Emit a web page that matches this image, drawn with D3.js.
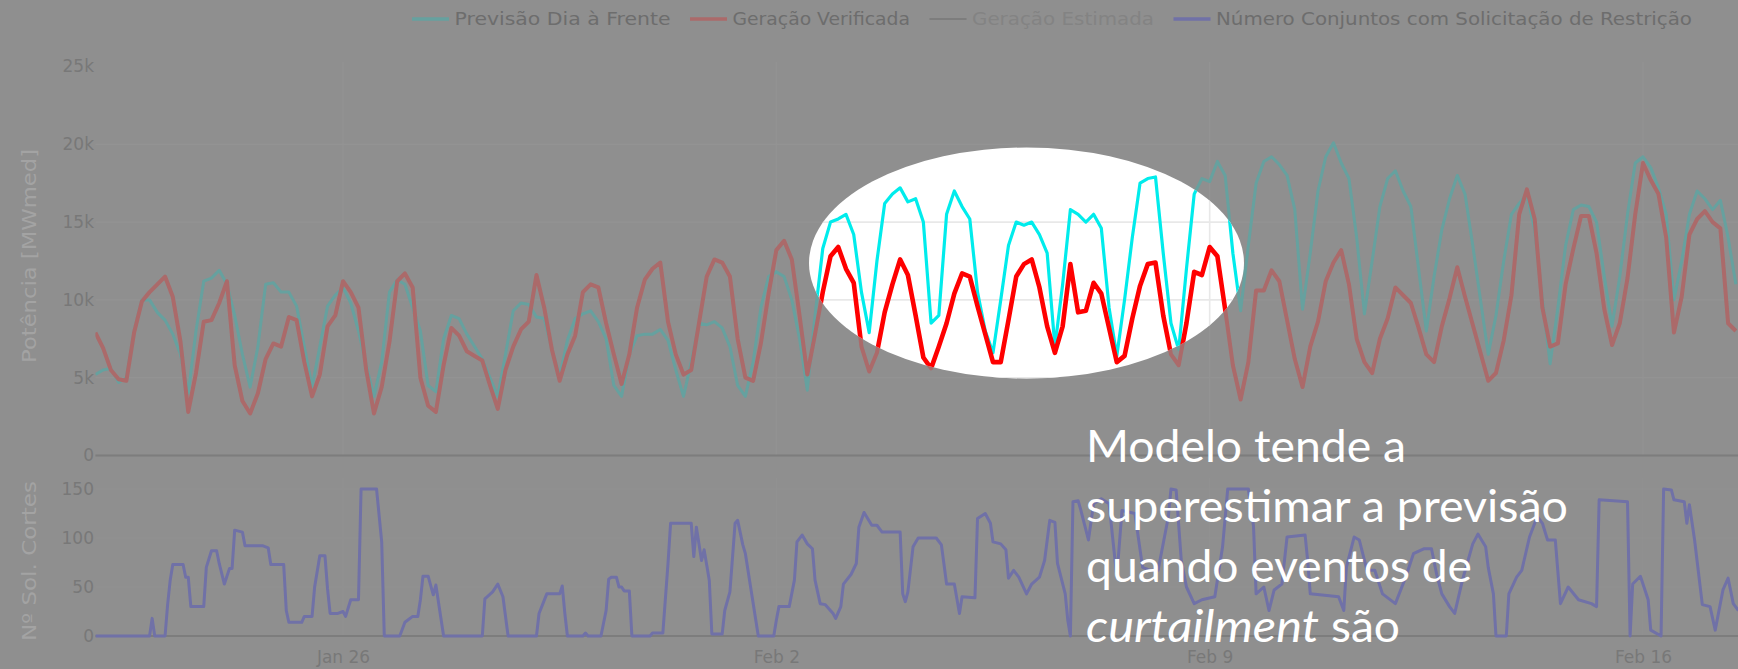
<!DOCTYPE html>
<html><head><meta charset="utf-8">
<script src="https://cdn.jsdelivr.net/npm/d3@7"></script>
<style>html,body{margin:0;padding:0;background:#8f8f8f;overflow:hidden}svg{display:block}</style>
</head><body>
<svg id="chart" width="1738" height="669"></svg>
<script>
// ---------------- DATA ----------------
const startTime = "2025-01-22T00:00:00Z";
const endTime   = "2025-02-17T12:50:00Z";
const stepHours = 3;   // forecast / verified sampled every 3 h from startTime (values in thousands of MWmed)

const forecastK = [
  5.2, 5.5, 5.6, 4.7, 5.0, 8.0, 10.0, 10.0,
  9.2, 8.7, 7.8, 6.5, 4.0, 8.0, 11.2, 11.4,
  11.9, 11.0, 9.0, 6.5, 4.4, 7.0, 11.0, 11.1,
  10.5, 10.5, 9.6, 7.0, 4.4, 7.0, 9.6, 10.3,
  10.8, 9.8, 8.0, 5.8, 3.8, 6.0, 10.5, 11.3,
  11.0, 9.5, 8.0, 4.5, 4.1, 7.5, 9.0, 8.8,
  7.8, 7.0, 6.2, 5.0, 3.8, 6.5, 9.3, 9.8,
  9.7, 8.9, 8.8, 6.8, 5.1, 7.4, 8.8, 9.1,
  9.3, 8.6, 7.5, 4.5, 3.8, 6.5, 7.7, 7.8,
  7.8, 8.1, 7.4, 5.5, 3.8, 6.0, 8.5, 8.4,
  8.6, 8.2, 7.0, 4.5, 3.8, 6.0, 9.5, 11.5,
  11.8, 11.5, 10.0, 7.5, 4.2, 9.0, 13.3, 15.0,
  15.2, 15.5, 14.2, 10.5, 7.9, 12.5, 16.2, 16.8,
  17.2, 16.3, 16.5, 15.0, 8.5, 9.0, 15.5, 17.0,
  16.0, 15.2, 10.5, 8.0, 6.6, 10.0, 13.5, 15.0,
  14.8, 15.0, 14.2, 13.0, 7.0, 11.0, 15.8, 15.5,
  15.0, 15.5, 14.6, 9.5, 6.4, 10.0, 14.0, 17.5,
  17.8, 17.9, 13.0, 8.5, 6.8, 12.0, 16.8, 17.8,
  17.6, 18.9, 18.0, 13.0, 9.3, 13.5, 17.5, 18.9,
  19.2, 18.7, 18.0, 15.8, 9.4, 13.0, 17.0, 19.2,
  20.1, 18.8, 17.8, 14.0, 9.1, 12.5, 16.0, 17.8,
  18.3, 17.0, 16.0, 12.0, 8.0, 11.5, 14.5, 16.5,
  18.0, 16.8, 13.5, 10.0, 6.5, 9.0, 12.5, 15.5,
  16.2, 16.8, 14.5, 10.0, 5.9, 9.5, 13.5, 15.8,
  16.1, 16.0, 15.0, 11.5, 8.3, 11.5, 15.5, 18.8,
  19.2, 18.5, 17.2, 15.5, 10.0, 12.5, 15.5, 17.0,
  16.5, 15.8, 16.4, 14.0, 11.0
];

const verifiedK = [
  7.9, 6.9, 5.5, 4.9, 4.8, 7.9, 9.9, 10.5,
  11.0, 11.5, 10.2, 7.3, 2.8, 5.3, 8.6, 8.7,
  9.8, 11.2, 5.8, 3.5, 2.7, 4.0, 6.2, 7.2,
  7.0, 8.9, 8.7, 6.0, 3.8, 5.2, 8.3, 9.0,
  11.2, 10.5, 9.5, 5.5, 2.7, 4.4, 7.3, 11.2,
  11.7, 10.8, 5.0, 3.2, 2.8, 5.8, 8.2, 7.7,
  6.7, 6.4, 6.1, 4.5, 3.0, 5.5, 7.0, 8.1,
  8.6, 11.6, 9.5, 6.8, 4.8, 6.5, 7.7, 10.5,
  11.0, 10.8, 8.5, 6.5, 4.6, 6.5, 9.5, 11.3,
  12.0, 12.4, 8.6, 6.5, 5.2, 5.5, 8.5, 11.5,
  12.6, 12.4, 11.5, 7.5, 5.0, 4.8, 7.2, 10.4,
  13.2, 13.8, 12.6, 9.0, 5.2, 7.8, 10.5, 12.8,
  13.4, 12.0, 11.1, 7.0, 5.4, 6.6, 9.2, 11.0,
  12.6, 11.6, 9.0, 6.3, 5.6, 7.0, 8.5, 10.4,
  11.7, 11.5, 9.6, 7.8, 6.0, 6.0, 8.7, 11.5,
  12.3, 12.6, 10.8, 8.3, 6.6, 8.3, 12.3, 9.2,
  9.3, 11.1, 10.4, 8.2, 6.0, 6.4, 8.8, 10.9,
  12.3, 12.4, 9.0, 6.5, 5.8, 8.5, 11.8, 11.6,
  13.4, 12.8, 9.4, 5.8, 3.6, 6.0, 10.6, 10.6,
  11.9, 11.2, 8.7, 6.2, 4.4, 7.0, 8.6, 11.2,
  12.4, 13.2, 11.0, 7.5, 6.0, 5.3, 7.5, 8.8,
  10.8, 10.3, 9.8, 8.2, 6.5, 6.0, 8.3, 10.1,
  12.1, 10.2, 8.4, 6.6, 4.8, 5.3, 7.4, 10.3,
  15.5, 17.1, 15.2, 9.5, 7.0, 7.2, 11.0, 13.3,
  15.4, 15.4, 13.0, 9.4, 7.1, 8.5, 11.4, 15.5,
  18.8, 17.7, 16.8, 14.0, 7.9, 10.2, 14.2, 15.2,
  15.7, 15.0, 14.6, 8.5, 8.0
];

// [hours since startTime, number of plants with curtailment request]
const restrictionCount = [
  [0,0],[21,0],[22,18],[23,0],[27,0],[28,32],[29,57],[30,73],[34,73],[35,60],[36,60],[37,30],[42,30],[43,70],
  [45,87],[47,87],[48,74],[50,53],[52,69],[53,69],[54,108],[57,106],[58,92],[65,92],[67,90],[68,73],[73,73],
  [74,26],[75,14],[80,14],[81,20],[84,20],[85,50],[87,82],[89,82],[90,48],[91,23],[94,23],[96,25],[97,20],
  [99,37],[102,37],[103,150],[109,150],[111,96],[112,0],[118,0],[120,14],[123,20],[125,20],[126,37],[127,61],
  [129,61],[131,42],[132,52],[135,0],[150,0],[151,38],[154,45],[156,53],[158,40],[160,0],[171,0],[172,23],
  [175,43],[180,43],[181,51],[182,23],[183,0],[189,0],[190,3],[191,0],[196,0],[198,26],[199,58],[200,60],
  [202,60],[203,50],[204,50],[205,46],[207,46],[208,0],[215,0],[216,3],[220,3],[222,74],[223,115],[231,115],
  [232,81],[233,111],[235,77],[236,88],[238,57],[239,2],[243,2],[244,26],[246,45],[248,115],[249,118],[251,93],
  [252,84],[257,0],[263,0],[264,16],[265,30],[269,30],[271,57],[272,96],[274,103],[276,94],[278,89],[279,57],
  [281,33],[283,32],[286,23],[287,18],[289,30],[290,53],[293,63],[295,74],[296,111],[298,126],[301,113],
  [303,113],[305,106],[312,106],[313,43],[314,35],[315,45],[317,91],[319,100],[326,100],[328,93],[330,53],
  [333,53],[335,23],[336,40],[341,39],[342,120],[345,125],[347,115],[348,96],[351,94],[353,88],[354,59],
  [356,67],[358,60],[361,43],[363,53],[366,60],[368,77],[370,118],[372,116],[373,74],[376,43],[377,16],
  [378,0],[379,137],[381,138],[382,129],[385,98],[387,135],[390,140],[393,135],[396,60],[398,128],[403,125],
  [406,70],[409,67],[412,67],[416,122],[417,150],[419,149],[421,77],[423,50],[426,33],[429,37],[434,40],
  [437,91],[439,150],[447,150],[449,112],[450,43],[453,50],[455,26],[457,47],[460,53],[462,101],[469,103],
  [470,77],[471,43],[482,40],[484,26],[485,70],[488,101],[490,98],[493,67],[496,67],[499,43],[504,33],
  [508,60],[511,84],[515,89],[518,89],[520,63],[522,43],[525,30],[527,23],[530,57],[534,94],[536,104],
  [539,91],[540,70],[542,43],[543,0],[547,0],[548,43],[551,60],[553,67],[556,101],[559,122],[561,115],
  [563,98],[566,98],[568,33],[571,50],[575,37],[580,33],[582,30],[583,139],[594,137],[595,0],[596,53],
  [599,61],[602,37],[603,6],[607,0],[608,150],[611,149],[612,139],[616,137],[617,115],[618,134],[620,98],
  [623,32],[626,30],[628,6],[631,47],[633,59],[635,33],[637,26]
];

const powerTicks = [0, 5, 10, 15, 20, 25];
const countTicks = [0, 50, 100, 150];
const dateTicks  = ["2025-01-26T00:00:00Z", "2025-02-02T00:00:00Z", "2025-02-09T00:00:00Z", "2025-02-16T00:00:00Z"];
const legendLabels = ["Previsão Dia à Frente", "Geração Verificada", "Geração Estimada", "Número Conjuntos com Solicitação de Restrição"];
const noteLines = ["Modelo tende a", "superestimar a previsão", "quando eventos de"];
const noteLast  = ["curtailment", "são"];

// ---------------- LAYOUT / STYLE ----------------
const W = 1738, H = 669;
const BG = "#8f8f8f";
const dim = {teal: "#66a19f", red: "#ab6a6a", purple: "#7071a7", grid: "#939393", zero: "#7d7d7d",
             tick: "#787878", title: "#a3a3a3", legend: "#6d6d6d", legendOff: "#838383", lineOff: "#7d7d7d"};
const bright = {cyan: "#00ecec", red: "#ff0000", grid: "#e8e8e8"};
const tickFont = "'DejaVu Sans', Verdana, sans-serif";

const svg = d3.select("#chart");
svg.append("rect").attr("width", W).attr("height", H).attr("fill", BG);

const t0 = new Date(startTime);
const x = d3.scaleUtc().domain([t0, new Date(endTime)]).range([95.4, 1738]);
const yTop = d3.scaleLinear().domain([0, 25]).range([455.5, 66.5]);
const yBot = d3.scaleLinear().domain([0, 150]).range([636, 489]);
const topArea = {y0: 58, y1: 457};
const botArea = {y0: 478, y1: 638};
const tAt = h => new Date(t0.getTime() + h * 3600e3);

const defs = svg.append("defs");
defs.append("clipPath").attr("id", "clipTop").append("rect")
  .attr("x", x.range()[0]).attr("y", topArea.y0).attr("width", W - x.range()[0]).attr("height", topArea.y1 - topArea.y0);
defs.append("clipPath").attr("id", "clipBot").append("rect")
  .attr("x", x.range()[0]).attr("y", botArea.y0).attr("width", W - x.range()[0]).attr("height", botArea.y1 - botArea.y0);
const ell = {cx: 1026.5, cy: 263, rx: 217.5, ry: 115.5};
defs.append("clipPath").attr("id", "clipEll").append("ellipse")
  .attr("cx", ell.cx).attr("cy", ell.cy).attr("rx", ell.rx).attr("ry", ell.ry);

// gridlines
function drawGrid(g, color, sw) {
  g.selectAll(".hg").data(powerTicks.filter(d => d > 0 && d < 25)).join("line")
    .attr("x1", x.range()[0]).attr("x2", W).attr("y1", d => yTop(d)).attr("y2", d => yTop(d))
    .attr("stroke", color).attr("stroke-width", sw);
  g.selectAll(".vg").data(dateTicks).join("line")
    .attr("x1", d => x(new Date(d))).attr("x2", d => x(new Date(d)))
    .attr("y1", topArea.y0 + 4).attr("y2", yTop(0))
    .attr("stroke", color).attr("stroke-width", sw);
}
drawGrid(svg.append("g"), dim.grid, 1.2);
const gridBot = svg.append("g");
gridBot.selectAll("line.h").data(countTicks.filter(d => d > 0)).join("line")
  .attr("x1", x.range()[0]).attr("x2", W).attr("y1", d => yBot(d)).attr("y2", d => yBot(d))
  .attr("stroke", dim.grid).attr("stroke-width", 1.1).attr("opacity", 0.7);
gridBot.selectAll("line.v").data(dateTicks).join("line")
  .attr("x1", d => x(new Date(d))).attr("x2", d => x(new Date(d)))
  .attr("y1", botArea.y0).attr("y2", yBot(0))
  .attr("stroke", dim.grid).attr("stroke-width", 1.1).attr("opacity", 0.7);

// zero lines
svg.append("line").attr("x1", x.range()[0]).attr("x2", W).attr("y1", yTop(0)).attr("y2", yTop(0))
  .attr("stroke", dim.zero).attr("stroke-width", 2);
svg.append("line").attr("x1", x.range()[0]).attr("x2", W).attr("y1", yBot(0)).attr("y2", yBot(0))
  .attr("stroke", dim.zero).attr("stroke-width", 2);

// axes
const kfmt = d => d === 0 ? "0" : d + "k";
function styleAxis(g) {
  g.select(".domain").remove();
  g.selectAll(".tick line").remove();
  g.selectAll("text").attr("fill", dim.tick).style("font-family", tickFont).style("font-size", "17px");
}
svg.append("g").attr("transform", "translate(94,0)")
  .call(d3.axisLeft(yTop).tickValues(powerTicks).tickFormat(kfmt).tickSize(0).tickPadding(0))
  .call(styleAxis);
svg.append("g").attr("transform", "translate(94,0)")
  .call(d3.axisLeft(yBot).tickValues(countTicks).tickSize(0).tickPadding(0))
  .call(styleAxis);
svg.append("g").attr("transform", "translate(0,645)")
  .call(d3.axisBottom(x).tickValues(dateTicks.map(d => new Date(d))).tickFormat(d3.utcFormat("%b %-d")).tickSize(0).tickPadding(6))
  .call(styleAxis);

// axis titles
svg.append("text").attr("transform", "translate(29,256) rotate(-90)")
  .attr("text-anchor", "middle").attr("dy", "0.35em").attr("fill", dim.title)
  .style("font-family", tickFont).style("font-size", "19px")
  .attr("textLength", 214).attr("lengthAdjust", "spacingAndGlyphs").text("Potência [MWmed]");
svg.append("text").attr("transform", "translate(29,561) rotate(-90)")
  .attr("text-anchor", "middle").attr("dy", "0.35em").attr("fill", dim.title)
  .style("font-family", tickFont).style("font-size", "19px")
  .attr("textLength", 160).attr("lengthAdjust", "spacingAndGlyphs").text("Nº Sol. Cortes");

// legend
const legendColors = [dim.teal, dim.red, dim.lineOff, dim.purple];
const legendTextColors = [dim.legend, dim.legend, dim.legendOff, dim.legend];
const legendWidths = [216, 177.5, 182, 476];
let lx = 412;
const legY = 19;
legendLabels.forEach((lab, i) => {
  svg.append("line").attr("x1", lx).attr("x2", lx + 37).attr("y1", legY).attr("y2", legY)
    .attr("stroke", legendColors[i]).attr("stroke-width", i === 2 ? 2 : 3.5);
  svg.append("text").attr("x", lx + 42.5).attr("y", legY).attr("dy", "0.36em")
    .attr("fill", legendTextColors[i]).style("font-family", tickFont).style("font-size", "18px")
    .attr("textLength", legendWidths[i]).attr("lengthAdjust", "spacingAndGlyphs").text(lab);
  lx += 42.5 + legendWidths[i] + 19.5;
});

// series
const lineStep = d3.line().x((d, i) => x(tAt(i * stepHours))).y(d => yTop(d));
const linePairs = d3.line().x(d => x(tAt(d[0]))).y(d => yBot(d[1]));

const topDim = svg.append("g").attr("clip-path", "url(#clipTop)");
topDim.append("path").attr("d", lineStep(forecastK)).attr("fill", "none")
  .attr("stroke", dim.teal).attr("stroke-width", 3).attr("stroke-linejoin", "round");
topDim.append("path").attr("d", lineStep(verifiedK)).attr("fill", "none")
  .attr("stroke", dim.red).attr("stroke-width", 4).attr("stroke-linejoin", "round");

svg.append("g").attr("clip-path", "url(#clipBot)")
  .append("path").attr("d", linePairs(restrictionCount)).attr("fill", "none")
  .attr("stroke", dim.purple).attr("stroke-width", 3).attr("stroke-linejoin", "round");

// spotlight ellipse
svg.append("ellipse").attr("cx", ell.cx).attr("cy", ell.cy).attr("rx", ell.rx).attr("ry", ell.ry).attr("fill", "#ffffff");
const spot = svg.append("g").attr("clip-path", "url(#clipEll)").append("g").attr("clip-path", "url(#clipTop)");
drawGrid(spot.append("g"), bright.grid, 1.6);
spot.append("path").attr("d", lineStep(forecastK)).attr("fill", "none")
  .attr("stroke", bright.cyan).attr("stroke-width", 3.2).attr("stroke-linejoin", "round");
spot.append("path").attr("d", lineStep(verifiedK)).attr("fill", "none")
  .attr("stroke", bright.red).attr("stroke-width", 4.6).attr("stroke-linejoin", "round");

// annotation text
const noteFont = "Lato, 'Open Sans', sans-serif";
const noteSize = "45px";
const noteX = 1086, noteY0 = 461.7, noteDY = 60;
const noteWidths = [320, 482, 386];
noteLines.forEach((s, i) => {
  svg.append("text").attr("x", noteX).attr("y", noteY0 + i * noteDY).attr("fill", "#ffffff")
    .style("font-family", noteFont).style("font-size", noteSize)
    .attr("textLength", noteWidths[i]).attr("lengthAdjust", "spacingAndGlyphs").text(s);
});
svg.append("text").attr("x", noteX).attr("y", noteY0 + 3 * noteDY).attr("fill", "#ffffff")
  .style("font-family", noteFont).style("font-size", noteSize).style("font-style", "italic")
  .attr("textLength", 233).attr("lengthAdjust", "spacingAndGlyphs").text(noteLast[0]);
svg.append("text").attr("x", noteX + 233 + 12).attr("y", noteY0 + 3 * noteDY).attr("fill", "#ffffff")
  .style("font-family", noteFont).style("font-size", noteSize)
  .attr("textLength", 69).attr("lengthAdjust", "spacingAndGlyphs").text(noteLast[1]);
</script>
</body></html>
